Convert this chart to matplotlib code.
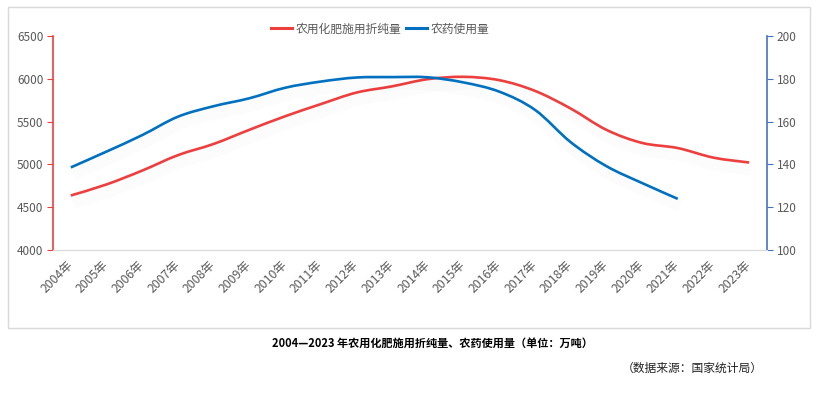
import numpy as np
import matplotlib
matplotlib.use("Agg")
import matplotlib.pyplot as plt
from matplotlib.path import Path
from matplotlib.patches import PathPatch, Rectangle
from matplotlib.lines import Line2D
import matplotlib.patheffects as pe

plt.rcParams['font.family'] = ['Noto Sans CJK SC', 'DejaVu Sans']

# dati (万吨, fonte: 国家统计局)
anni = [str(a) + '年' for a in range(2004, 2024)]
fertilizzanti = [4637, 4766, 4928, 5108, 5239, 5404, 5562, 5704, 5839, 5912,
                 5996, 6023, 5984, 5859, 5653, 5404, 5251, 5191, 5079, 5022]
pesticidi = [138.6, 146.0, 153.7, 162.3, 167.2, 170.9, 175.8, 178.7, 180.6, 180.8,
             180.7, 178.3, 174.0, 165.5, 150.4, 139.2, 131.3, 123.9]

rosso = '#EE3E3E'
blu = '#0070C0'
grigio = '#595959'


def curva_liscia(x, y):
    """Percorso Bezier che passa per i punti (smoothing tipo Excel)"""
    x = np.asarray(x, float)
    y = np.asarray(y, float)
    p = np.column_stack([x, y])
    est = np.vstack([p[0], p, p[-1]])
    verts = [p[0]]
    codes = [Path.MOVETO]
    for i in range(len(p) - 1):
        c1 = est[i + 1] + (est[i + 2] - est[i]) / 6
        c2 = est[i + 2] - (est[i + 3] - est[i + 1]) / 6
        verts += [c1, c2, est[i + 2]]
        codes += [Path.CURVE4] * 3
    return Path(verts, codes)


fig = plt.figure(figsize=(8.16, 3.96), dpi=100)
fig.patches.append(Rectangle((8 / 816, 1 - 328 / 396), 802 / 816, 321 / 396,
                             transform=fig.transFigure, fill=False,
                             edgecolor='#D9D9D9', linewidth=1))

ax = fig.add_axes([53 / 816, 1 - 250 / 396, 714 / 816, 214 / 396])
ax2 = ax.twinx()

x = np.arange(len(anni))
ombra = [pe.SimpleLineShadow(offset=(1.5, -5), shadow_color='black', alpha=0.012, linewidth=9), pe.Normal()]

ax.add_patch(PathPatch(curva_liscia(x, fertilizzanti), fill=False, edgecolor=rosso,
                       linewidth=1.9, capstyle='butt', path_effects=ombra, zorder=3))
ax2.add_patch(PathPatch(curva_liscia(x[:len(pesticidi)], pesticidi), fill=False, edgecolor=blu,
                        linewidth=1.9, capstyle='butt', path_effects=ombra, zorder=3))

ax.set_xlim(-0.5, len(anni) - 0.5)
ax.set_ylim(4000, 6500)
ax2.set_ylim(100, 200)
ax.set_yticks(np.arange(4000, 6501, 500))
ax2.set_yticks(np.arange(100, 201, 20))

ax.set_xticks(x)
ax.set_xticklabels(anni, rotation=45, ha='right', va='center', rotation_mode='anchor',
                   fontsize=8.8, color=grigio)
ax.tick_params(axis='x', length=0, pad=9)
ax.tick_params(axis='y', direction='out', length=4, color=rosso, labelsize=8.5,
               labelcolor=grigio, pad=3)
ax2.tick_params(axis='y', direction='out', length=4, color='#4472C4', labelsize=8.5,
                labelcolor=grigio, pad=3)

for a in (ax, ax2):
    a.spines['top'].set_visible(False)
    a.spines['bottom'].set_color('#D9D9D9')
    a.spines['left'].set_visible(False)
    a.spines['right'].set_visible(False)
    a.patch.set_visible(False)
ax.spines['left'].set_visible(True)
ax.spines['left'].set_color(rosso)
ax.spines['left'].set_linewidth(1.2)
ax2.spines['right'].set_visible(True)
ax2.spines['right'].set_color('#4472C4')
ax2.spines['right'].set_linewidth(1.2)

maniglie = [Line2D([], [], color=rosso, linewidth=2.2),
            Line2D([], [], color=blu, linewidth=2.2)]
fig.legend(maniglie, ['农用化肥施用折纯量', '农药使用量'], loc='center',
           bbox_to_anchor=(380 / 816, 1 - 29 / 396), ncol=2, frameon=False,
           fontsize=8.5, handlelength=1.8, handletextpad=0.3, columnspacing=0.4,
           labelcolor=grigio)

fig.text(432 / 816, 1 - 343 / 396, '2004—2023 年农用化肥施用折纯量、农药使用量（单位：万吨）',
         ha='center', va='center', fontsize=8, fontweight='bold', color='black')
fig.text(763 / 816, 1 - 368 / 396, '（数据来源：国家统计局）',
         ha='right', va='center', fontsize=8.5, color='#222222')

fig.savefig('out.png', dpi=100)
